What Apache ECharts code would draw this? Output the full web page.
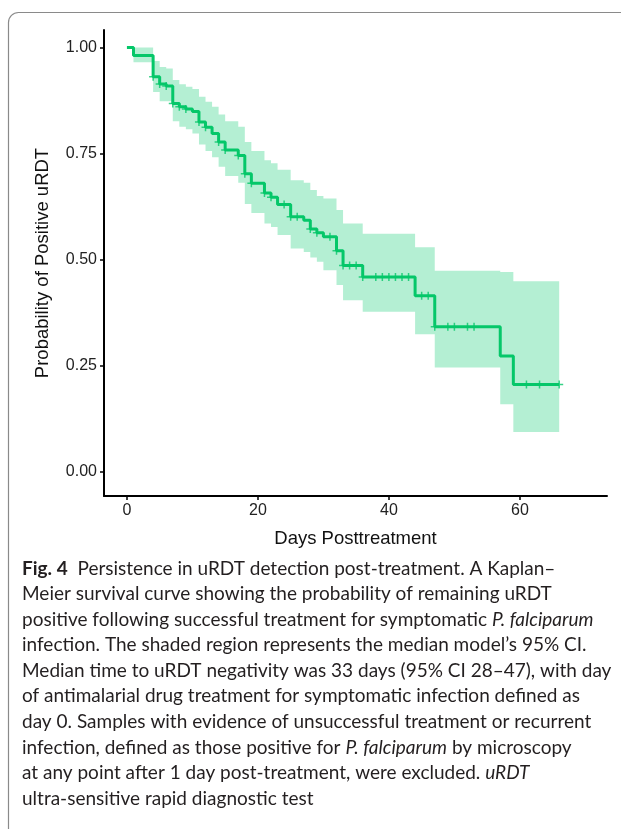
<!DOCTYPE html>
<html>
<head>
<meta charset="utf-8">
<script src="https://cdn.jsdelivr.net/npm/echarts@6/dist/echarts.min.js"></script>
<style>
  html, body { margin: 0; padding: 0; background: #fff; }
  #chart { width: 621px; height: 829px; }
</style>
</head>
<body>
<div id="chart"></div>
<script>
// step times (days) of the Kaplan-Meier curve and its 95% CI
const days = [0, 1, 4, 5, 6, 7, 8, 9, 10, 11, 12, 13, 14, 15, 17, 18, 19, 21, 22, 23, 25, 27, 28, 29, 30, 32, 33, 36, 44, 47, 57, 59]
const surv = [1.00, 0.981, 0.931, 0.914, 0.909, 0.868, 0.860, 0.855, 0.849, 0.824, 0.812, 0.797, 0.777, 0.758, 0.745, 0.702, 0.680, 0.657, 0.647, 0.630, 0.601, 0.593, 0.572, 0.563, 0.554, 0.521, 0.486, 0.459, 0.415, 0.342, 0.273, 0.206]
const upper = [1.00, 1.00, 0.968, 0.954, 0.950, 0.923, 0.913, 0.907, 0.902, 0.884, 0.872, 0.860, 0.842, 0.826, 0.813, 0.777, 0.756, 0.734, 0.727, 0.712, 0.687, 0.681, 0.664, 0.650, 0.644, 0.617, 0.585, 0.561, 0.529, 0.474, 0.471, 0.449]
const lower = [1.00, 0.965, 0.895, 0.873, 0.873, 0.826, 0.813, 0.807, 0.797, 0.771, 0.756, 0.741, 0.719, 0.697, 0.681, 0.631, 0.610, 0.585, 0.577, 0.558, 0.526, 0.518, 0.505, 0.495, 0.475, 0.440, 0.404, 0.377, 0.324, 0.246, 0.159, 0.094]
const lastDay = 66
// censoring times (+ marks)
const censorDays = [4, 5, 6, 7, 8, 9, 11, 12, 14, 15, 17, 18, 19, 21, 22, 24, 25, 26, 28, 29, 31, 32, 33, 34, 35, 36, 38, 39, 40, 41, 42, 43, 45, 46, 47, 49, 50, 52, 53, 61, 63, 66]
const xTicks = [0, 20, 40, 60]
const yTicks = [0, 0.25, 0.5, 0.75, 1]

const captionLines = [
  '{b|Fig. 4}  Persistence in uRDT detection post-treatment. A Kaplan–',
  'Meier survival curve showing the probability of remaining uRDT',
  'positive following successful treatment for symptomatic {i|P. falciparum}',
  'infection. The shaded region represents the median model’s 95% CI.',
  'Median time to uRDT negativity was 33 days (95% CI 28–47), with day',
  'of antimalarial drug treatment for symptomatic infection defined as',
  'day 0. Samples with evidence of unsuccessful treatment or recurrent',
  'infection, defined as those positive for {i|P. falciparum} by microscopy',
  'at any point after 1 day post-treatment, were excluded. {i|uRDT}',
  'ultra-sensitive rapid diagnostic test'
]

const lineColor = '#05c769'
const bandColor = '#b4efd3'
const axisFont = 'Liberation Sans, Arial, sans-serif'
const capFont = 'Lato, sans-serif'

const survAt = d => {
  let v = surv[0]
  for (let i = 0; i < days.length; i++) {
    if (days[i] <= d) v = surv[i]
  }
  return v
}

const stepData = days.map((d, i) => [d, surv[i]])
stepData.push([lastDay, surv[surv.length - 1]])
const censorData = censorDays.map(d => [d, survAt(d)])

const capFontSize = 19
const captionGraphics = captionLines.map((t, k) => ({
  type: 'text',
  left: 22,
  top: 559 + k * 25.56,
  style: {
    text: t,
    fill: '#231f20',
    fontFamily: capFont,
    fontSize: capFontSize,
    rich: {
      b: { fontWeight: 'bold', fontFamily: capFont, fontSize: capFontSize, fill: '#231f20' },
      i: { fontStyle: 'italic', fontFamily: capFont, fontSize: capFontSize, fill: '#231f20' }
    }
  }
}))

const myChart = echarts.init(document.getElementById('chart'), null, { renderer: 'canvas' })
myChart.setOption({
  animation: false,
  backgroundColor: '#fff',
  grid: { left: 104, top: 30, width: 503, height: 466, outerBoundsMode: 'none' },
  xAxis: {
    type: 'value',
    min: -3.5,
    max: 73.3,
    name: 'Days Posttreatment',
    nameLocation: 'middle',
    nameGap: 33,
    nameTextStyle: { fontFamily: axisFont, fontSize: 18.5, color: '#111' },
    axisLine: { show: true, onZero: false, lineStyle: { color: '#000', width: 2 } },
    axisTick: { show: true, length: 4, customValues: xTicks, lineStyle: { color: '#000', width: 1.5 } },
    axisLabel: { customValues: xTicks, margin: 7, fontFamily: axisFont, fontSize: 16, color: '#222' },
    splitLine: { show: false }
  },
  yAxis: {
    type: 'value',
    min: -0.057,
    max: 1.041,
    name: 'Probability of Positive uRDT',
    nameLocation: 'middle',
    nameGap: 52,
    nameTextStyle: { fontFamily: axisFont, fontSize: 18.5, color: '#111' },
    axisLine: { show: true, onZero: false, lineStyle: { color: '#000', width: 2 } },
    axisTick: { show: true, length: 4, customValues: yTicks, lineStyle: { color: '#000', width: 1.5 } },
    axisLabel: {
      customValues: yTicks,
      margin: 7,
      fontFamily: axisFont,
      fontSize: 16,
      color: '#222',
      formatter: v => v.toFixed(2)
    },
    splitLine: { show: false }
  },
  graphic: [
    {
      type: 'rect',
      z: -1,
      shape: { x: 8.5, y: 12.5, width: 720, height: 900, r: 10 },
      style: { fill: 'none', stroke: '#8a8a8a', lineWidth: 1.2 }
    }
  ].concat(captionGraphics),
  series: [
    {
      // 95% CI band as one stepped polygon
      type: 'custom',
      silent: true,
      data: [[0, 1]],
      z: 1,
      renderItem: (params, api) => {
        const pts = []
        for (let i = 0; i < days.length; i++) {
          const x1 = i + 1 < days.length ? days[i + 1] : lastDay
          pts.push(api.coord([days[i], upper[i]]), api.coord([x1, upper[i]]))
        }
        for (let i = days.length - 1; i >= 0; i--) {
          const x1 = i + 1 < days.length ? days[i + 1] : lastDay
          pts.push(api.coord([x1, lower[i]]), api.coord([days[i], lower[i]]))
        }
        return { type: 'polygon', shape: { points: pts }, style: { fill: bandColor } }
      }
    },
    {
      type: 'line',
      step: 'end',
      data: stepData,
      symbol: 'none',
      z: 3,
      lineStyle: { color: lineColor, width: 3 }
    },
    {
      type: 'scatter',
      data: censorData,
      z: 4,
      symbol: 'path://M-1.5,-8H1.5V-1.5H8V1.5H1.5V8H-1.5V1.5H-8V-1.5H-1.5Z',
      symbolSize: 8,
      itemStyle: { color: lineColor }
    }
  ]
})
</script>
</body>
</html>
